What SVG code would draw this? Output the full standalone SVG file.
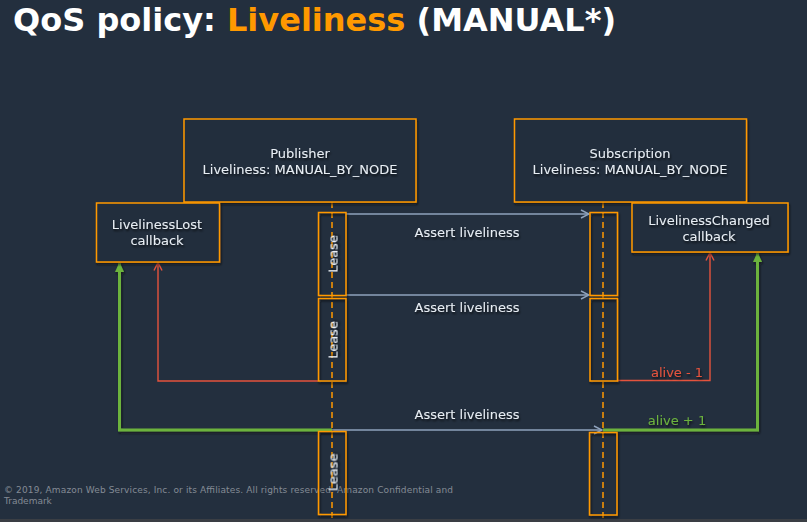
<svg xmlns="http://www.w3.org/2000/svg" width="807" height="522" viewBox="0 0 807 522">
<defs>
<filter id="sh" x="-10%" y="-10%" width="130%" height="130%">
<feDropShadow dx="1" dy="2" stdDeviation="0.8" flood-color="#0d1218" flood-opacity="0.7"/>
</filter>
<marker id="ag" viewBox="0 0 10 10" refX="9" refY="5" markerWidth="10" markerHeight="10" markerUnits="userSpaceOnUse" orient="auto">
<path d="M1,1 L9,5 L1,9" fill="none" stroke="#8fa3bd" stroke-width="1.4"/>
</marker>
<marker id="ar" viewBox="0 0 10 10" refX="9" refY="5" markerWidth="10" markerHeight="10" markerUnits="userSpaceOnUse" orient="auto">
<path d="M1,1 L9,5 L1,9" fill="none" stroke="#e5533d" stroke-width="1.4"/>
</marker>
<marker id="agr" viewBox="0 0 10 10" refX="9" refY="5" markerWidth="10" markerHeight="10" markerUnits="userSpaceOnUse" orient="auto">
<path d="M0,0.5 L10,5 L0,9.5 Z" fill="#6cb33e"/>
</marker>
</defs>
<style>
.box{fill:none;stroke:#ff9900;stroke-width:1.5;filter:url(#sh)}
.node{fill:#232f3e;stroke:#ff9900;stroke-width:1.5;filter:url(#sh)}
.t{font-family:"DejaVu Sans",sans-serif;font-size:13px;fill:#e8eef4;text-anchor:middle;filter:url(#sh)}
.life{stroke:#ff9900;stroke-width:1.5;stroke-dasharray:6 4;fill:none}
.msg{stroke:#8fa3bd;stroke-width:1.4;fill:none;marker-end:url(#ag)}
.red{stroke:#e5533d;stroke-width:1.4;fill:none;marker-end:url(#ar)}
.grn{stroke:#6cb33e;stroke-width:3;fill:none;marker-end:url(#agr);filter:url(#sh)}
</style>
<rect width="807" height="522" fill="#232f3e"/>
<rect y="519" width="807" height="3" fill="#3a3e44"/>
<text x="13" y="31" font-family="DejaVu Sans,sans-serif" font-weight="bold" font-size="32" fill="#ffffff">QoS policy: <tspan fill="#ff9900">Liveliness</tspan> (MANUAL*)</text>
<text font-family="DejaVu Sans,sans-serif" font-size="9" fill="#838b95"><tspan x="4" y="493" textLength="449" lengthAdjust="spacing">© 2019, Amazon Web Services, Inc. or its Affiliates. All rights reserved. Amazon Confidential and</tspan><tspan x="4" y="504">Trademark</tspan></text>

<g id="connectors">
<path class="life" d="M332,202 V522"/>
<path class="life" d="M603,202 V522"/>
<path class="msg" d="M346,214 H589"/>
<path class="msg" d="M346,295 H589"/>
<path class="msg" d="M332,430 H602"/>
<path class="red" d="M318,381 H158 V262.5"/>
<path class="red" d="M617,380.5 H710 V252.5"/>
<path class="grn" d="M332,430 H119.5 V263"/>
<path class="grn" d="M603,430 H757.5 V253"/>
<text class="t" x="467" y="237">Assert liveliness</text>
<text class="t" x="467" y="312">Assert liveliness</text>
<text class="t" x="467" y="419">Assert liveliness</text>
<text class="t" x="677" y="377" fill="#e5533d" style="fill:#e5533d">alive - 1</text>
<text class="t" x="677" y="425" style="fill:#6cb33e">alive + 1</text>
</g>

<g id="publisher">
<rect class="node" x="184" y="119" width="232" height="83"/>
<text class="t" x="300" y="158">Publisher</text>
<text class="t" x="300" y="174">Liveliness: MANUAL_BY_NODE</text>
</g>
<g id="subscription">
<rect class="node" x="514.5" y="119" width="232" height="83"/>
<text class="t" x="630" y="158">Subscription</text>
<text class="t" x="630" y="174">Liveliness: MANUAL_BY_NODE</text>
</g>
<g id="liveliness-lost">
<rect class="node" x="96.5" y="203" width="123" height="59"/>
<text class="t" x="157" y="229">LivelinessLost</text>
<text class="t" x="157" y="245">callback</text>
</g>
<g id="liveliness-changed">
<rect class="node" x="632" y="203" width="156" height="49"/>
<text class="t" x="709" y="224.5">LivelinessChanged</text>
<text class="t" x="709" y="241">callback</text>
</g>
<g id="pub-lease-1">
<rect class="box" x="318.5" y="212.5" width="27.5" height="83"/>
<text class="t" transform="translate(337.5,254) rotate(-90)">Lease</text>
</g>
<g id="pub-lease-2">
<rect class="box" x="318.5" y="298.5" width="27.5" height="82.5"/>
<text class="t" transform="translate(337.5,340) rotate(-90)">Lease</text>
</g>
<g id="pub-lease-3">
<rect class="box" x="318.5" y="431.5" width="27.5" height="83"/>
<text class="t" transform="translate(337.5,472.5) rotate(-90)">Lease</text>
</g>
<g id="sub-lease-1">
<rect class="box" x="590" y="212.5" width="27.5" height="83"/>
</g>
<g id="sub-lease-2">
<rect class="box" x="590" y="298.5" width="27.5" height="82.5"/>
</g>
<g id="sub-lease-3">
<rect class="box" x="589.5" y="432.5" width="27.5" height="82.5"/>
</g>
</svg>
